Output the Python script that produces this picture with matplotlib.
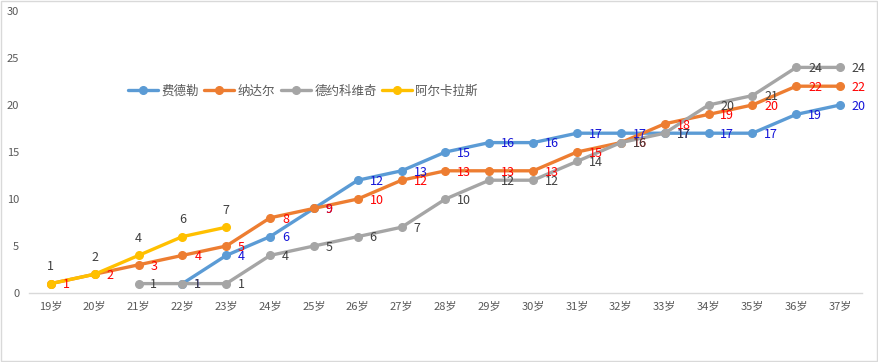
import matplotlib
matplotlib.use("Agg")
import matplotlib.pyplot as plt
import numpy as np

plt.rcParams['font.family'] = ['Noto Sans CJK SC', 'DejaVu Sans']

ages = ['19岁', '20岁', '21岁', '22岁', '23岁', '24岁', '25岁', '26岁', '27岁', '28岁',
        '29岁', '30岁', '31岁', '32岁', '33岁', '34岁', '35岁', '36岁', '37岁']
nan = np.nan
federer = [nan, nan, nan, 1, 4, 6, 9, 12, 13, 15, 16, 16, 17, 17, 17, 17, 17, 19, 20]
nadal = [1, 2, 3, 4, 5, 8, 9, 10, 12, 13, 13, 13, 15, 16, 18, 19, 20, 22, 22]
djokovic = [nan, nan, 1, 1, 1, 4, 5, 6, 7, 10, 12, 12, 14, 16, 17, 20, 21, 24, 24]
alcaraz = [1, 2, 4, 6, 7]

names = ['费德勒', '纳达尔', '德约科维奇', '阿尔卡拉斯']
line_colors = ['#5B9BD5', '#ED7D31', '#A5A5A5', '#FFC000']
label_colors = ['#1414D8', '#FF0000', '#404040', '#404040']

fig = plt.figure(figsize=(8.79, 3.62), dpi=100)
ax = fig.add_axes([29/879, 1 - 293/362, (862 - 29)/879, (293 - 11)/362])

series = [federer, nadal, djokovic, alcaraz]
x = np.arange(len(ages))
for i, s in enumerate(series):
    xs = x[:len(s)]
    ys = np.array(s, dtype=float)
    ax.plot(xs, ys, color=line_colors[i], lw=2.4, marker='o', ms=5.5,
            label=names[i], solid_capstyle='round', zorder=2 + i)

# data labels drawn after all lines
for i, s in enumerate(series):
    for xi, v in zip(x[:len(s)], s):
        if np.isnan(v):
            continue
        if i == 3:
            ax.annotate(str(int(v)), (xi, v), xytext=(0, 12), textcoords='offset points',
                        ha='center', va='center', fontsize=9, color=label_colors[i], zorder=10)
        else:
            ax.annotate(str(int(v)), (xi, v), xytext=(8.5, -1), textcoords='offset points',
                        ha='left', va='center', fontsize=9, color=label_colors[i], zorder=10)

ax.set_xlim(-0.5, len(ages) - 0.5)
ax.set_ylim(0, 30)
ax.set_yticks(range(0, 31, 5))
ax.set_xticks(x)
ax.set_xticklabels(ages)
ax.tick_params(axis='both', length=0, labelsize=8, colors='#595959')
ax.tick_params(axis='y', pad=7)
ax.tick_params(axis='x', pad=6)
for sp in ['top', 'left', 'right']:
    ax.spines[sp].set_visible(False)
ax.spines['bottom'].set_color('#D9D9D9')
ax.spines['bottom'].set_linewidth(1)

leg = fig.legend(loc='center left', bbox_to_anchor=(128/879, 1 - 91/362), ncol=4,
                 frameon=False, fontsize=9, handlelength=2.4, handletextpad=0.3,
                 columnspacing=0.4, borderpad=0, borderaxespad=0)
for t in leg.get_texts():
    t.set_color('#595959')

# outer border of the chart
fig.patches.append(plt.Rectangle((0.001, 0.002), 0.997, 0.995, transform=fig.transFigure,
                                 fill=False, edgecolor='#D9D9D9', lw=1))

fig.savefig('out.png', dpi=100)
